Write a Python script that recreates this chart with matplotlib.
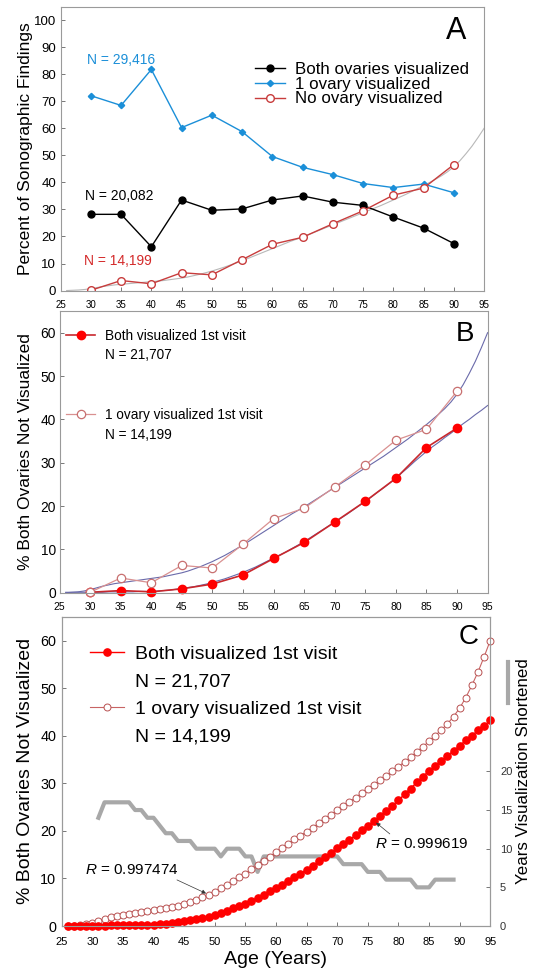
import matplotlib
matplotlib.use("Agg")
import matplotlib.pyplot as plt
from matplotlib.lines import Line2D

plt.rcParams['font.family'] = ['Liberation Sans', 'DejaVu Sans']
plt.rcParams['mathtext.fontset'] = 'custom'
plt.rcParams['mathtext.rm'] = 'Liberation Sans'
plt.rcParams['mathtext.it'] = 'Liberation Sans:italic'

# ---- panel A: share of findings per age group
age5 = [30, 35, 40, 45, 50, 55, 60, 65, 70, 75, 80, 85, 90]
both_vis = [28.2, 28.2, 16.2, 33.5, 29.7, 30.2, 33.5, 35.0, 32.7, 31.5, 27.2, 23.1, 17.4]
one_vis = [72.1, 68.5, 81.8, 60.3, 64.9, 58.8, 49.6, 45.6, 42.9, 39.6, 38.1, 39.4, 36.2]
none_vis = [0.1, 3.7, 2.5, 6.6, 5.8, 11.4, 17.1, 19.7, 24.7, 29.5, 35.3, 37.9, 46.6]

# ---- panel B: both ovaries not visualized, by first visit result
both_first = [0.1, 0.5, 0.2, 0.9, 2.0, 4.1, 7.9, 11.6, 16.3, 21.1, 26.4, 33.5, 38.0]
one_first = [0.1, 3.4, 2.3, 6.3, 5.7, 11.2, 17.1, 19.5, 24.4, 29.5, 35.2, 37.7, 46.5]

# ---- fitted curves (panel C, also the thin lines in A and B), ages 26..95
fit_age = list(range(26, 96))
fit_both = [0.1, 0.1, 0.1, 0.1, 0.1, 0.1, 0.1, 0.2, 0.2, 0.2,
            0.2, 0.2, 0.3, 0.3, 0.3, 0.4, 0.5, 0.6, 0.8, 1.0,
            1.2, 1.4, 1.7, 2.0, 2.4, 2.8, 3.2, 3.7, 4.2, 4.7,
            5.3, 5.9, 6.6, 7.3, 8.0, 8.7, 9.4, 10.2, 11.0, 11.8,
            12.7, 13.6, 14.5, 15.4, 16.3, 17.2, 18.1, 19.1, 20.1, 21.1,
            22.1, 23.2, 24.2, 25.3, 26.4, 27.7, 28.9, 30.2, 31.4, 32.6,
            33.7, 34.7, 35.8, 36.8, 37.9, 39.0, 40.0, 41.1, 42.1, 43.2]
fit_one = [0.0, 0.1, 0.2, 0.4, 0.7, 1.1, 1.5, 1.8, 2.1, 2.3,
           2.5, 2.7, 2.9, 3.1, 3.3, 3.5, 3.7, 4.0, 4.3, 4.6,
           5.0, 5.5, 6.0, 6.6, 7.2, 7.9, 8.6, 9.4, 10.2, 11.0,
           11.9, 12.8, 13.7, 14.6, 15.5, 16.4, 17.3, 18.2, 19.0, 19.8,
           20.7, 21.6, 22.5, 23.4, 24.3, 25.2, 26.1, 27.0, 27.9, 28.8,
           29.7, 30.6, 31.5, 32.5, 33.5, 34.5, 35.5, 36.6, 37.7, 38.8,
           40.0, 41.2, 42.5, 44.0, 45.8, 48.0, 50.6, 53.4, 56.6, 60.0]

# ---- years visualization shortened (right axis of C), ages 31..89
yrs_age = list(range(31, 90))
yrs_short = [14, 16, 16, 16, 16, 16, 15, 15, 14, 14,
             13, 12, 12, 11, 11, 11, 10, 10, 10, 10,
             9, 10, 10, 10, 9, 9, 7, 9, 9, 9,
             9, 9, 9, 9, 9, 9, 9, 9, 9, 9,
             8, 8, 8, 8, 7, 7, 7, 6, 6, 6,
             6, 6, 5, 5, 5, 6, 6, 6, 6]

xticks = list(range(25, 96, 5))
spine_col = '#9a9a9a'


def style_axes(ax, xsize, ysize, xpad, ypad):
    for s in ax.spines.values():
        s.set_color(spine_col)
        s.set_linewidth(0.8)
    ax.tick_params(direction='in', length=3, width=0.7, color='#777777')
    ax.tick_params(axis='x', labelsize=xsize, pad=xpad)
    ax.tick_params(axis='y', labelsize=ysize, pad=ypad)
    ax.set_xlim(25, 95)
    ax.set_xticks(xticks)


fig = plt.figure(figsize=(5.34, 9.72), dpi=100)

# ================= A
axA = fig.add_axes([0.1135, 0.7011, 0.7929, 0.2919])
axA.plot(fit_age, fit_one, color='#b8b8b8', lw=0.8, zorder=1)
axA.plot(age5, both_vis, '-o', color='black', ms=5, lw=1,
         label='Both ovaries visualized')
axA.plot(age5, one_vis, '-D', color='#1b8fd8', ms=3.2, lw=1,
         label='1 ovary visualized')
axA.plot(age5, none_vis, '-o', color='#c83c3c', mfc='white', ms=5.5,
         mew=1, lw=1, label='No ovary visualized')
style_axes(axA, 7, 9.5, 6.5, 3.2)
axA.set_ylim(0, 105)
axA.set_yticks(range(0, 101, 10))
axA.set_ylabel('Percent of Sonographic Findings', fontsize=12.5)
axA.yaxis.set_label_coords(-0.065, 0.5)
axA.legend(loc='upper left', bbox_to_anchor=(0.458, 0.805), fontsize=12.2,
           frameon=False, borderpad=0, borderaxespad=0, handlelength=1.8,
           handletextpad=0.6, labelspacing=-0.02)
axA.text(29.3, 85.3, 'N = 29,416', color='#1b8fd8', fontsize=10, va='center')
axA.text(29.0, 34.8, 'N = 20,082', color='black', fontsize=10, va='center')
axA.text(28.9, 11.1, 'N = 14,199', color='#d42a2a', fontsize=10, va='center')
axA.text(0.959, 0.914, 'A', transform=axA.transAxes, ha='right', va='center',
         fontsize=22)

# ================= B
axB = fig.add_axes([0.1116, 0.3902, 0.8015, 0.2898])
axB.plot(fit_age, fit_one, color='#6a6aaa', lw=0.8, zorder=1)
axB.plot(fit_age, fit_both, color='#6a6aaa', lw=0.8, zorder=1)
hb1, = axB.plot(age5, both_first, '-o', color='#c8282d', mfc='red', mec='red',
                ms=6, lw=1.2, clip_on=False)
hb2, = axB.plot(age5, one_first, '-o', color='#d99090', mfc='white',
                mec='#c87070', ms=6, mew=0.9, lw=0.9, clip_on=False)
style_axes(axB, 7.5, 9.9, 7, 2.5)
axB.set_ylim(0, 65)
axB.set_yticks(range(0, 61, 10))
axB.set_ylabel('% Both Ovaries Not Visualized', fontsize=12.5)
axB.yaxis.set_label_coords(-0.062, 0.5)
blank = Line2D([], [], color='none')
axB.legend([hb1, blank, blank, blank, hb2, blank],
           ['Both visualized 1st visit', 'N = 21,707', '', '',
            '1 ovary visualized 1st visit', 'N = 14,199'],
           loc='upper left', bbox_to_anchor=(0.016, 0.9375), fontsize=9.8,
           frameon=False, borderpad=0, borderaxespad=0, handlelength=2.1,
           handletextpad=0.74, labelspacing=0.43)
axB.text(0.968, 0.918, 'B', transform=axB.transAxes, ha='right', va='center',
         fontsize=20)

# ================= C
axC = fig.add_axes([0.1155, 0.0473, 0.8026, 0.3182])
ax2 = axC.twinx()
ax2.plot(yrs_age, yrs_short, color='#a8a8a8', lw=3)
ax2.set_ylim(0, 40)
ax2.set_yticks(range(0, 21, 5))
for s in ax2.spines.values():
    s.set_color(spine_col)
    s.set_linewidth(0.8)
ax2.tick_params(direction='in', length=3, width=0.7, color='#777777',
                labelsize=8, pad=7, labelcolor='#333333')
ax2.set_ylabel('Years Visualization Shortened', fontsize=12.2)
ax2.yaxis.set_label_coords(1.06, 0.5)
# grey key next to the right-hand label
ax2.add_line(Line2D([1.041, 1.041], [0.722, 0.855], transform=ax2.transAxes,
                    color='#a8a8a8', lw=3, clip_on=False))

axC.set_zorder(ax2.get_zorder() + 1)
axC.patch.set_visible(False)
hc2, = axC.plot(fit_age, fit_one, '-o', color='#c86464', lw=0.8, mfc='white',
                mec='#b85050', ms=5, mew=0.7, clip_on=False)
hc1, = axC.plot(fit_age, fit_both, '-o', color='red', ms=5.2, lw=1,
                clip_on=False)
style_axes(axC, 8, 10.4, 7.7, 4)
axC.set_ylim(0, 65)
axC.set_yticks(range(0, 61, 10))
axC.set_ylabel('% Both Ovaries Not Visualized', fontsize=14)
axC.yaxis.set_label_coords(-0.065, 0.5)
axC.set_xlabel('Age (Years)', fontsize=14, labelpad=3)
axC.legend([hc1, blank, hc2, blank],
           ['Both visualized 1st visit', 'N = 21,707',
            '1 ovary visualized 1st visit', 'N = 14,199'],
           loc='upper left', bbox_to_anchor=(0.066, 0.908), fontsize=14,
           frameon=False, borderpad=0, borderaxespad=0, handlelength=1.75,
           handletextpad=0.59, labelspacing=0.52)
arrow = dict(arrowstyle='-|>', color='#333333', lw=0.5, mutation_scale=6,
             shrinkA=0, shrinkB=2)
axC.annotate(r'$\it{R}$ = 0.997474', xy=(49, fit_one[49 - 26]),
             xytext=(28.8, 11.75), ha='left', va='center', fontsize=11,
             arrowprops=dict(arrow, relpos=(0.92, 0.0)))
axC.annotate(r'$\it{R}$ = 0.999619', xy=(76, fit_both[76 - 26]),
             xytext=(76.1, 17.3), ha='left', va='center', fontsize=11,
             arrowprops=dict(arrow, relpos=(0.2, 1.0)))
axC.text(0.972, 0.934, 'C', transform=axC.transAxes, ha='right', va='center',
         fontsize=20)

fig.savefig('out.png', dpi=100)
